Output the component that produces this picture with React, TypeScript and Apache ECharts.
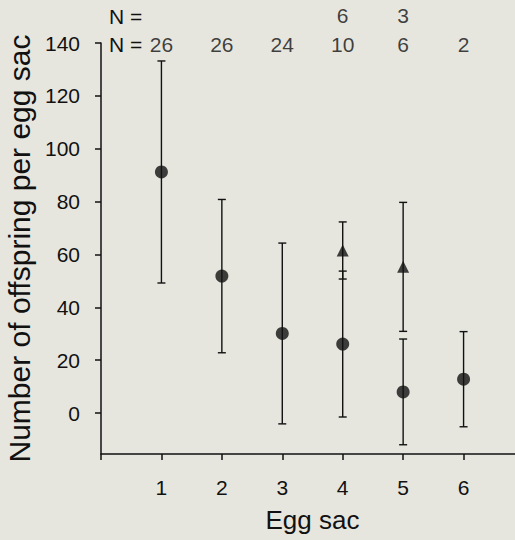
import React, { useEffect, useRef } from 'react';
import * as echarts from 'echarts';

const eggSacs = [1, 2, 3, 4, 5, 6];
const circleMeans = [91.2, 51.8, 30.1, 26.1, 8.0, 12.8];
const circleErr = [42, 29, 34.2, 27.6, 20, 18];
const triangleSacs = [4, 5];
const triangleMeans = [61.5, 55.3];
const triangleErr = [10.8, 24.4];
const nCircle = ['26', '26', '24', '10', '6', '2'];
const nTriangleSacs = [4, 5];
const nTriangle = ['6', '3'];
const yTicks = [0, 20, 40, 60, 80, 100, 120, 140];
const xTicks = [0, 1, 2, 3, 4, 5, 6];
const xLabels = [1, 2, 3, 4, 5, 6];

const INK = '#111111';
const FONT = "'Liberation Sans', Arial, sans-serif";

export default function App() {
  const ref = useRef<HTMLDivElement>(null);
  useEffect(() => {
    if (!ref.current) return;
    const chart = echarts.init(ref.current, null, { renderer: 'svg' });
    const errData = [
      ...eggSacs.map((x, i) => [x, circleMeans[i] - circleErr[i], circleMeans[i] + circleErr[i]]),
      ...triangleSacs.map((x, i) => [x, triangleMeans[i] - triangleErr[i], triangleMeans[i] + triangleErr[i]]),
    ];
    const renderErr = (params: any, api: any) => {
      const x = api.value(0);
      const lo = api.coord([x, api.value(1)]);
      const hi = api.coord([x, api.value(2)]);
      const w = 4;
      const style = { stroke: INK, lineWidth: 1.4 };
      return {
        type: 'group',
        children: [
          { type: 'line', shape: { x1: lo[0], y1: lo[1], x2: hi[0], y2: hi[1] }, style },
          { type: 'line', shape: { x1: lo[0] - w, y1: lo[1], x2: lo[0] + w, y2: lo[1] }, style },
          { type: 'line', shape: { x1: hi[0] - w, y1: hi[1], x2: hi[0] + w, y2: hi[1] }, style },
        ],
      };
    };
    chart.setOption({
      animation: false,
      backgroundColor: '#e6e6df',
      textStyle: { fontFamily: FONT },
      grid: { left: 101, top: 43, width: 423, height: 411, outerBoundsMode: 'none', containLabel: false },
      xAxis: {
        type: 'value',
        min: 0,
        max: 7,
        name: 'Egg sac',
        nameLocation: 'middle',
        nameGap: 53,
        nameTextStyle: { fontSize: 26, color: INK, fontFamily: FONT },
        splitLine: { show: false },
        axisLine: { show: true, onZero: false, lineStyle: { color: INK, width: 1.5 } },
        axisTick: { show: true, length: 6, customValues: xTicks, lineStyle: { color: INK, width: 1.5 } },
        axisLabel: { customValues: xLabels, fontSize: 21, color: INK, margin: 23, fontFamily: FONT },
      },
      yAxis: {
        type: 'value',
        min: -15.5,
        max: 140,
        name: 'Number of offspring per egg sac',
        nameLocation: 'middle',
        nameRotate: 90,
        nameGap: 64,
        nameTextStyle: { fontSize: 30, color: INK, fontFamily: FONT },
        splitLine: { show: false },
        axisLine: { show: true, onZero: false, lineStyle: { color: INK, width: 1.5 } },
        axisTick: { show: true, length: 6, customValues: yTicks, lineStyle: { color: INK, width: 1.5 } },
        axisLabel: { customValues: yTicks, fontSize: 21, color: INK, margin: 21, fontFamily: FONT },
      },
      graphic: [
        { type: 'text', x: 109, y: 16, style: { text: 'N =', fontSize: 21, fill: INK, fontFamily: FONT, verticalAlign: 'middle' } },
        { type: 'text', x: 109, y: 44, style: { text: 'N =', fontSize: 21, fill: INK, fontFamily: FONT, verticalAlign: 'middle' } },
      ],
      series: [
        {
          type: 'custom',
          renderItem: renderErr,
          data: errData,
          clip: false,
          silent: true,
          z: 1,
        },
        {
          type: 'scatter',
          data: eggSacs.map((x, i) => [x, circleMeans[i]]),
          symbol: 'circle',
          symbolSize: 13,
          itemStyle: { color: INK },
          z: 3,
        },
        {
          type: 'scatter',
          data: triangleSacs.map((x, i) => [x, triangleMeans[i]]),
          symbol: 'triangle',
          symbolSize: 12,
          itemStyle: { color: INK },
          z: 3,
        },
        {
          type: 'scatter',
          data: eggSacs.map((x, i) => [x, 140, nCircle[i]]),
          symbolSize: 0,
          clip: false,
          label: {
            show: true,
            position: 'inside',
            formatter: (p: any) => p.value[2],
            fontSize: 21,
            color: INK,
            fontFamily: FONT,
            offset: [0, 1],
          },
        },
        {
          type: 'scatter',
          data: nTriangleSacs.map((x, i) => [x, 140, nTriangle[i]]),
          symbolSize: 0,
          clip: false,
          label: {
            show: true,
            position: 'inside',
            formatter: (p: any) => p.value[2],
            fontSize: 21,
            color: INK,
            fontFamily: FONT,
            offset: [0, -28],
          },
        },
      ],
    });
    return () => chart.dispose();
  }, []);
  return (
    <div
      ref={ref}
      style={{ position: 'fixed', left: 0, top: 0, width: 515, height: 540 }}
    />
  );
}
